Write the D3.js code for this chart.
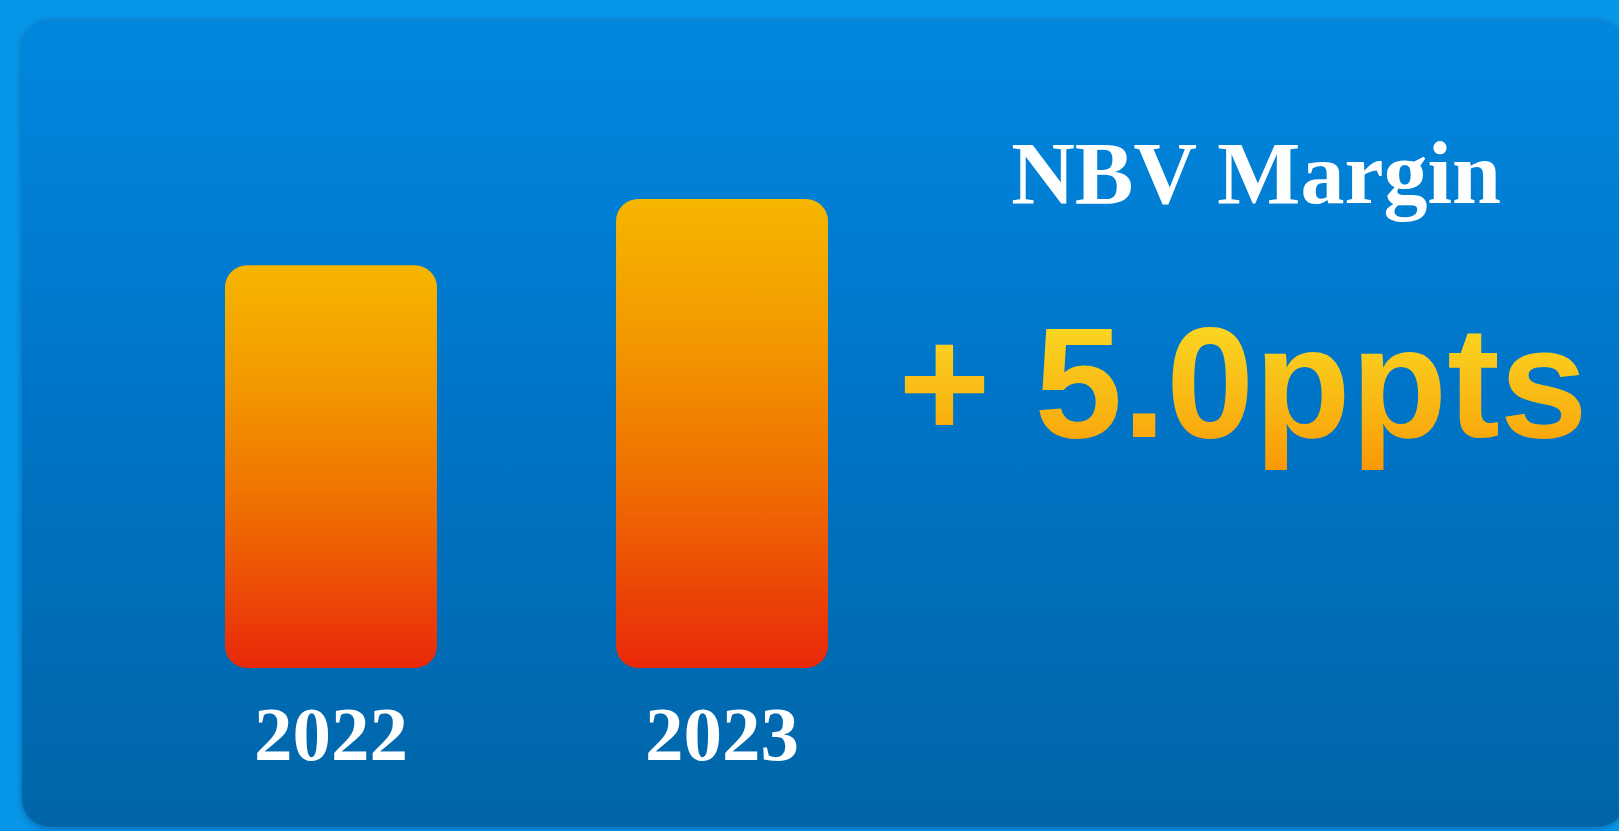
<!DOCTYPE html>
<html>
<head>
<meta charset="utf-8">
<script src="https://cdn.jsdelivr.net/npm/d3@7"></script>
<style>
  html, body { margin: 0; padding: 0; background: #0897e8; overflow: hidden; }
  svg { display: block; }
</style>
</head>
<body>
<svg id="chart" width="1619" height="831"></svg>
<script>
// values (NBV margin, %), 2023 is 5.0 ppts above 2022
var years = ["2022", "2023"];
var margins = [30.4, 35.4];
var title = "NBV Margin";
var change = "+ 5.0ppts";

var svg = d3.select("#chart");
var defs = svg.append("defs");

// panel background
var bg = defs.append("linearGradient").attr("id", "panelGrad")
  .attr("x1", 0).attr("y1", 0).attr("x2", 0).attr("y2", 1);
bg.append("stop").attr("offset", "0%").attr("stop-color", "#0088df");
bg.append("stop").attr("offset", "45%").attr("stop-color", "#0075c8");
bg.append("stop").attr("offset", "100%").attr("stop-color", "#0065a8");

// soft edge round the panel
var blur = defs.append("filter").attr("id", "soft")
  .attr("x", "-5%").attr("y", "-5%").attr("width", "110%").attr("height", "110%");
blur.append("feGaussianBlur").attr("stdDeviation", 3);

// bars: yellow on top, red at the bottom
var barGrad = defs.append("linearGradient").attr("id", "barGrad")
  .attr("x1", 0).attr("y1", 0).attr("x2", 0).attr("y2", 1);
barGrad.append("stop").attr("offset", "0%").attr("stop-color", "#f6b600");
barGrad.append("stop").attr("offset", "30%").attr("stop-color", "#f39800");
barGrad.append("stop").attr("offset", "62%").attr("stop-color", "#ef6c02");
barGrad.append("stop").attr("offset", "100%").attr("stop-color", "#e9280a");

// big number
var txtGrad = defs.append("linearGradient").attr("id", "txtGrad")
  .attr("gradientUnits", "userSpaceOnUse")
  .attr("x1", 0).attr("y1", 320).attr("x2", 0).attr("y2", 470);
txtGrad.append("stop").attr("offset", "0%").attr("stop-color", "#fbd823");
txtGrad.append("stop").attr("offset", "60%").attr("stop-color", "#f9b512");
txtGrad.append("stop").attr("offset", "100%").attr("stop-color", "#fa9804");

svg.append("rect")
  .attr("x", 20).attr("y", 20)
  .attr("width", 1606).attr("height", 810)
  .attr("rx", 30).attr("ry", 30)
  .attr("fill", "rgba(0,60,130,0.35)")
  .attr("filter", "url(#soft)");

svg.append("rect")
  .attr("x", 22).attr("y", 22)
  .attr("width", 1604).attr("height", 805)
  .attr("rx", 28).attr("ry", 28)
  .attr("fill", "url(#panelGrad)");

var xscale = d3.scaleBand().domain(years).range([225, 828]).paddingInner(0.458).paddingOuter(0);
var yscale = d3.scaleLinear().domain([0, d3.max(margins)]).range([668, 199]);

var data = years.map(function(y, i){ return {year: y, value: margins[i]}; });

svg.append("g").selectAll("rect").data(data).enter().append("rect")
  .attr("x", d => xscale(d.year))
  .attr("y", d => yscale(d.value))
  .attr("width", xscale.bandwidth())
  .attr("height", d => yscale(0) - yscale(d.value))
  .attr("rx", 22).attr("ry", 22)
  .attr("fill", "url(#barGrad)");

// year labels under the bars
svg.append("g").selectAll("text").data(data).enter().append("text")
  .attr("x", d => xscale(d.year) + xscale.bandwidth() / 2)
  .attr("y", 760)
  .attr("text-anchor", "middle")
  .style("font-family", "'Liberation Serif', 'Times New Roman', serif")
  .style("font-weight", "bold")
  .style("font-size", "77px")
  .style("fill", "#ffffff")
  .text(d => d.year);

svg.append("text")
  .attr("x", 1256).attr("y", 203)
  .attr("text-anchor", "middle")
  .style("font-family", "'Liberation Serif', 'Times New Roman', serif")
  .style("font-weight", "bold")
  .style("font-size", "88px")
  .style("fill", "#ffffff")
  .text(title);

svg.append("text")
  .attr("x", 1243).attr("y", 437)
  .attr("text-anchor", "middle")
  .style("font-family", "'Liberation Sans', Arial, sans-serif")
  .style("font-weight", "bold")
  .style("font-size", "158px")
  .style("fill", "url(#txtGrad)")
  .text(change);
</script>
</body>
</html>
